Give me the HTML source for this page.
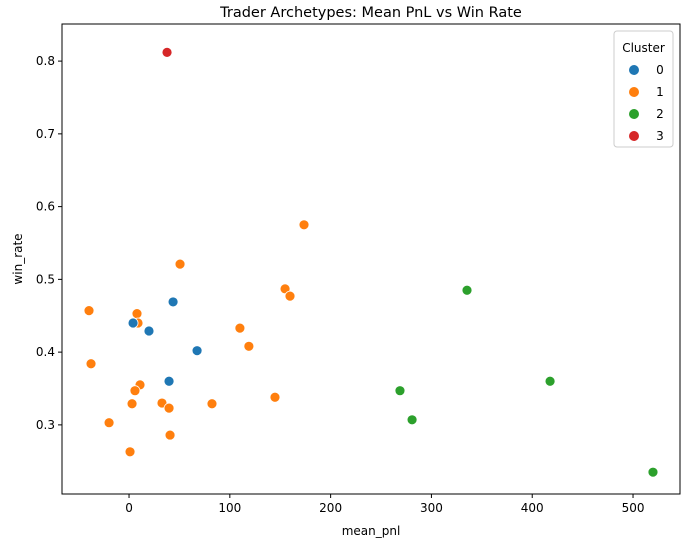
<!DOCTYPE html>
<html><head><meta charset="utf-8"><style>
body{margin:0;background:#fff;font-family:"Liberation Sans","DejaVu Sans",sans-serif;}
svg text{font-family:"DejaVu Sans","Liberation Sans",sans-serif;}
</style></head><body>
<svg id="chart" width="691" height="547" xmlns="http://www.w3.org/2000/svg"></svg>
<script>
const meanPnl0=[43.7,4,19.8,67.5,39.7];
const winRate0=[0.469,0.440,0.429,0.402,0.360];
const meanPnl1=[50.6,173.6,154.8,159.7,-39.7,7.9,8.9,110,118.9,-37.7,10.9,5.9,3,32.7,39.7,82.3,144.8,-19.8,40.7,1];
const winRate1=[0.521,0.575,0.487,0.477,0.457,0.453,0.440,0.433,0.408,0.384,0.355,0.347,0.329,0.330,0.323,0.329,0.338,0.303,0.286,0.263];
const meanPnl2=[268.8,280.8,335.3,417.7,519.8];
const winRate2=[0.347,0.307,0.485,0.360,0.235];
const meanPnl3=[37.7];
const winRate3=[0.812];
const xTicks=[0,100,200,300,400,500];
const yTicks=[0.3,0.4,0.5,0.6,0.7,0.8];
const clusters=["0","1","2","3"];
const colors=["#1f77b4","#ff7f0e","#2ca02c","#d62728"];
const L=62,R=680,T=24,B=494,xmin=-66.5,xmax=546.6,ymin=0.205,ymax=0.851;
const sx=v=>L+(v-xmin)/(xmax-xmin)*(R-L);
const sy=v=>B-(v-ymin)/(ymax-ymin)*(B-T);
const svg=document.getElementById('chart');const NS="http://www.w3.org/2000/svg";
function mk(t,a,p){const e=document.createElementNS(NS,t);for(const k in a)e.setAttribute(k,a[k]);(p||svg).appendChild(e);return e;}
let e=mk('text',{x:(L+R)/2,y:17,'text-anchor':'middle','font-size':'14.5'});e.textContent='Trader Archetypes: Mean PnL vs Win Rate';


xTicks.forEach(v=>{const g=mk('g',{});


mk('line',{x1:sx(v),x2:sx(v),y1:B,y2:B+4,stroke:'#000'},g);
const t=mk('text',{x:sx(v),y:B+18,'text-anchor':'middle','font-size':'12'},g);t.textContent=v;});
yTicks.forEach(v=>{const g=mk('g',{});


mk('line',{x1:L-4,x2:L,y1:sy(v),y2:sy(v),stroke:'#000'},g);
const t=mk('text',{x:L-7,y:sy(v)+4,'text-anchor':'end','font-size':'12'},g);t.textContent=v.toFixed(1);});
e=mk('text',{x:(L+R)/2,y:535,'text-anchor':'middle','font-size':'12'});e.textContent='mean_pnl';


e=mk('text',{x:22,y:(T+B)/2,'text-anchor':'middle','font-size':'12',transform:`rotate(-90 22 ${(T+B)/2})`});e.textContent='win_rate';


const series=[[meanPnl0,winRate0],[meanPnl1,winRate1],[meanPnl2,winRate2],[meanPnl3,winRate3]];
[1,2,3,0].forEach(i=>{const s=series[i];s[0].forEach((x,j)=>{const c=mk('circle',{cx:sx(x),cy:sy(s[1][j]),r:5,fill:colors[i],stroke:'#fff','stroke-width':0.8});

});});
e=mk('rect',{x:L,y:T,width:R-L,height:B-T,fill:'none',stroke:'#000','stroke-width':1});


const lg=mk('g',{});


mk('rect',{x:614,y:31,width:59,height:116,fill:'#fff',stroke:'#ccc',rx:3},lg);
e=mk('text',{x:643.5,y:52,'text-anchor':'middle','font-size':'12'},lg);e.textContent='Cluster';
clusters.forEach((c,i)=>{const g=mk('g',{},lg);


const y=70+i*22;mk('circle',{cx:634,cy:y,r:5,fill:colors[i]},g);
const t=mk('text',{x:660,y:y+4,'text-anchor':'middle','font-size':'12'},g);t.textContent=c;});
</script>
</body></html>
